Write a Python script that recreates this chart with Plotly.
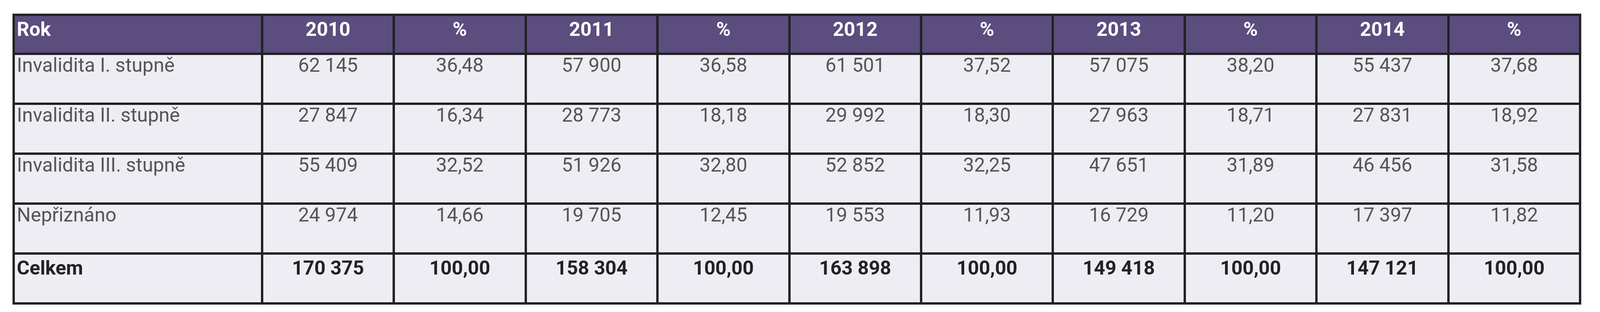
import plotly.graph_objects as go

header = ["Rok", "2010", "%", "2011", "%", "2012", "%", "2013", "%", "2014", "%"]
rows = ["Invalidita I. stupně", "Invalidita II. stupně", "Invalidita III. stupně", "Nepřiznáno", "Celkem"]
y2010 = ["62 145", "27 847", "55 409", "24 974", "170 375"]
p2010 = ["36,48", "16,34", "32,52", "14,66", "100,00"]
y2011 = ["57 900", "28 773", "51 926", "19 705", "158 304"]
p2011 = ["36,58", "18,18", "32,80", "12,45", "100,00"]
y2012 = ["61 501", "29 992", "52 852", "19 553", "163 898"]
p2012 = ["37,52", "18,30", "32,25", "11,93", "100,00"]
y2013 = ["57 075", "27 963", "47 651", "16 729", "149 418"]
p2013 = ["38,20", "18,71", "31,89", "11,20", "100,00"]
y2014 = ["55 437", "27 831", "46 456", "17 397", "147 121"]
p2014 = ["37,68", "18,92", "31,58", "11,82", "100,00"]

cols = [rows, y2010, p2010, y2011, p2011, y2012, p2012, y2013, p2013, y2014, p2014]
def fmt(col):
    return [("<b>%s</b>" % v) if i == len(col) - 1 else v for i, v in enumerate(col)]
cells = [fmt(c) for c in cols]
fontcolors = [["#555555"] * 4 + ["#222222"]] * len(cols)
FONT = "Liberation Sans Narrow, Arial Narrow, Roboto, sans-serif"

fig = go.Figure(go.Table(
    columnwidth=[671] + [356] * 10,
    header=dict(values=["<b>%s</b>" % h for h in header],
                fill_color="#5b4d7e", line=dict(color="#222222", width=6),
                font=dict(color="white", size=50, family=FONT),
                align=["left"] + ["center"] * 10, height=100),
    cells=dict(values=cells, fill_color="#eeedf4", line=dict(color="#222222", width=6),
               font=dict(color=fontcolors, size=50, family=FONT),
               align=["left"] + ["center"] * 10, height=128),
))
fig.update_layout(width=4287, height=800, margin=dict(l=27, r=250, t=30, b=0),
                  paper_bgcolor="white")
fig.write_html("out.html")
